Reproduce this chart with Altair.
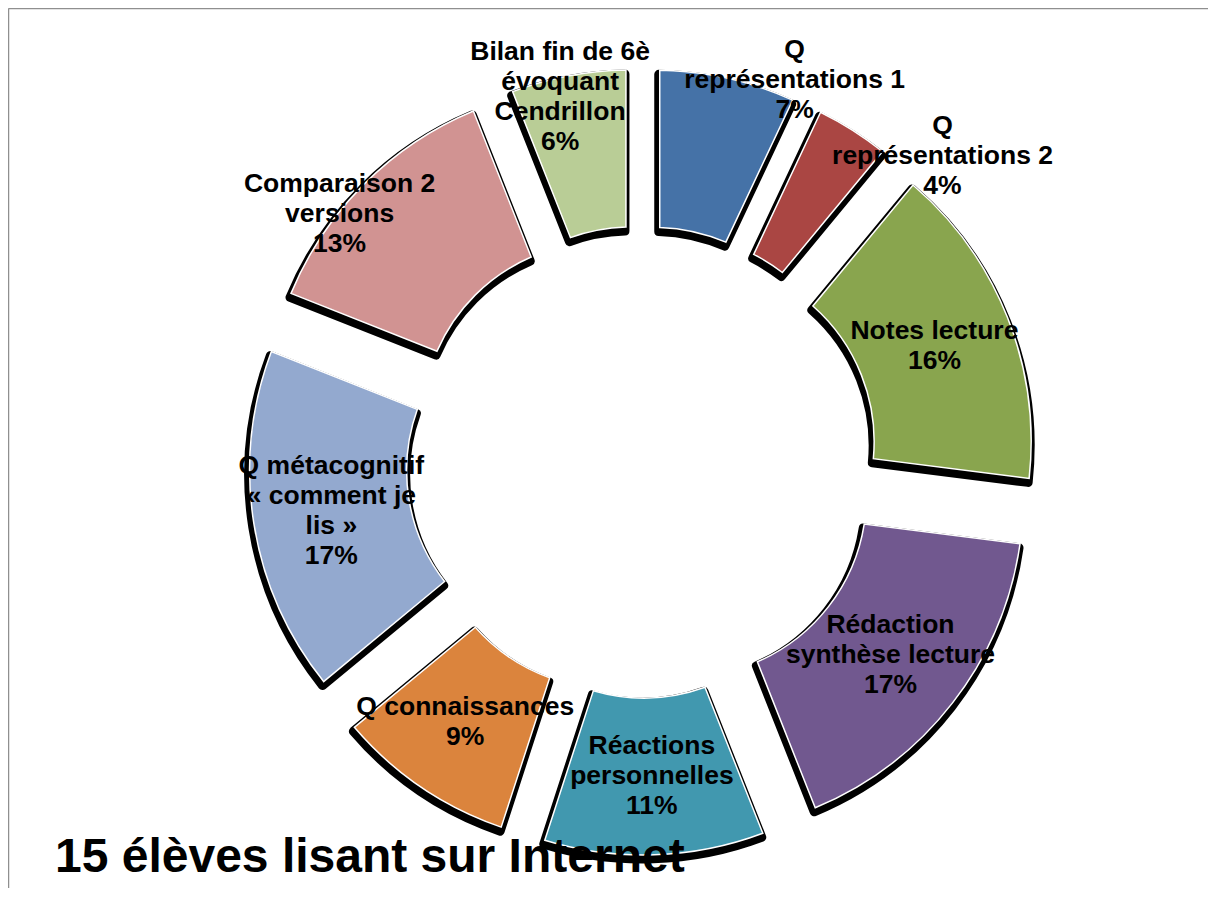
import altair as alt
import pandas as pd

# ---- data ----
categories = [
    "Q représentations 1",
    "Q représentations 2",
    "Notes lecture",
    "Rédaction synthèse lecture",
    "Réactions personnelles",
    "Q connaissances",
    "Q métacognitif « comment je lis »",
    "Comparaison 2 versions",
    "Bilan fin de 6è évoquant Cendrillon",
]
label_lines = [
    ["Q", "représentations 1"],
    ["Q", "représentations 2"],
    ["Notes lecture"],
    ["Rédaction", "synthèse lecture"],
    ["Réactions", "personnelles"],
    ["Q connaissances"],
    ["Q métacognitif", "« comment je", "lis »"],
    ["Comparaison 2", "versions"],
    ["Bilan fin de 6è", "évoquant", "Cendrillon"],
]
percents = [7, 4, 16, 17, 11, 9, 17, 13, 6]
colors = ["#4572A7", "#AA4643", "#89A54E", "#71588F", "#4198AF",
          "#DB843D", "#93A9CF", "#D19392", "#B9CD96"]
title_text = "15 élèves lisant sur Internet"

# ---- layout (not data) ----
W, H = 1200, 880
CX, CY = 634, 454          # doughnut centre
R_OUT, R_IN = 338, 181
EXPLODE = 55
PAD = 0.03
LINE_H = 30
# label nudges (manual best-fit placement in the original)
nudge_x = [84, 132, 0, 0, 0, 0, 0, -80, -23]
nudge_y = [-75, -40, 0, 0, 0, 0, 0, -26, -56]

df = pd.DataFrame({
    "category": categories,
    "text": ["\n".join(l + [f"{p}%"]) for l, p in zip(label_lines, percents)],
    "nlines": [len(l) + 1 for l in label_lines],
    "value": percents,
    "order": list(range(len(categories))),
    "nx": nudge_x,
    "ny": nudge_y,
})

RM = (R_OUT + R_IN) / 2

base = (
    alt.Chart(df)
    .transform_window(cum="sum(value)", sort=[alt.SortField("order")], frame=[None, 0])
    .transform_joinaggregate(total="sum(value)")
    .transform_calculate(
        a0="2*PI*(datum.cum-datum.value)/datum.total",
        a1="2*PI*datum.cum/datum.total",
    )
    .transform_calculate(mid="(datum.a0+datum.a1)/2")
    .transform_calculate(
        px=f"{CX}+{EXPLODE}*sin(datum.mid)",
        py=f"{CY}-{EXPLODE}*cos(datum.mid)",
        lx=f"{CX}+({EXPLODE}+{RM})*sin(datum.mid)+datum.nx",
        ly=f"{CY}-({EXPLODE}+{RM})*cos(datum.mid)+datum.ny-(datum.nlines-1)*{LINE_H / 2}",
    )
)

arc_enc = dict(
    theta=alt.Theta("a0:Q", scale=None, stack=None),
    theta2=alt.Theta2("a1:Q"),
    x=alt.X("px:Q", scale=None),
    y=alt.Y("py:Q", scale=None),
)

shadow = base.mark_arc(
    radius=R_OUT, radius2=R_IN, padAngle=PAD,
    fill="black", stroke="black", strokeWidth=9, strokeJoin="round",
    xOffset=-1, yOffset=4,
).encode(**arc_enc)

slices = base.mark_arc(
    radius=R_OUT, radius2=R_IN, padAngle=PAD,
    stroke="white", strokeWidth=1.5,
).encode(
    color=alt.Color("category:N", scale=alt.Scale(domain=categories, range=colors), legend=None),
    **arc_enc,
)

labels = base.mark_text(
    font="Liberation Sans", fontWeight="bold", fontSize=26.5,
    lineBreak="\n", lineHeight=LINE_H, align="center", baseline="middle", color="black",
).encode(
    x=alt.X("lx:Q", scale=None),
    y=alt.Y("ly:Q", scale=None),
    text="text:N",
)

title = alt.Chart(pd.DataFrame({"t": [title_text]})).mark_text(
    font="Liberation Sans", fontWeight="bold", fontSize=48,
    align="left", baseline="alphabetic", color="black",
).encode(x=alt.value(47), y=alt.value(864), text="t:N")

frame_df = pd.DataFrame({"k": [0]})
frame_top = alt.Chart(frame_df).mark_rule(color="#8f8f8f", strokeWidth=1.5).encode(
    x=alt.value(0.5), x2=alt.value(W), y=alt.value(0.5))
frame_left = alt.Chart(frame_df).mark_rule(color="#8f8f8f", strokeWidth=1.5).encode(
    x=alt.value(0.5), y=alt.value(0.5), y2=alt.value(H))

chart = (
    alt.layer(frame_top, frame_left, shadow, slices, labels, title)
    .properties(width=W, height=H, padding=0, autosize=alt.AutoSizeParams(type="none"))
    .configure_view(strokeWidth=0)
    .configure(background="white")
)

chart.save("out.html", embed_options={"renderer": "svg", "actions": False})
